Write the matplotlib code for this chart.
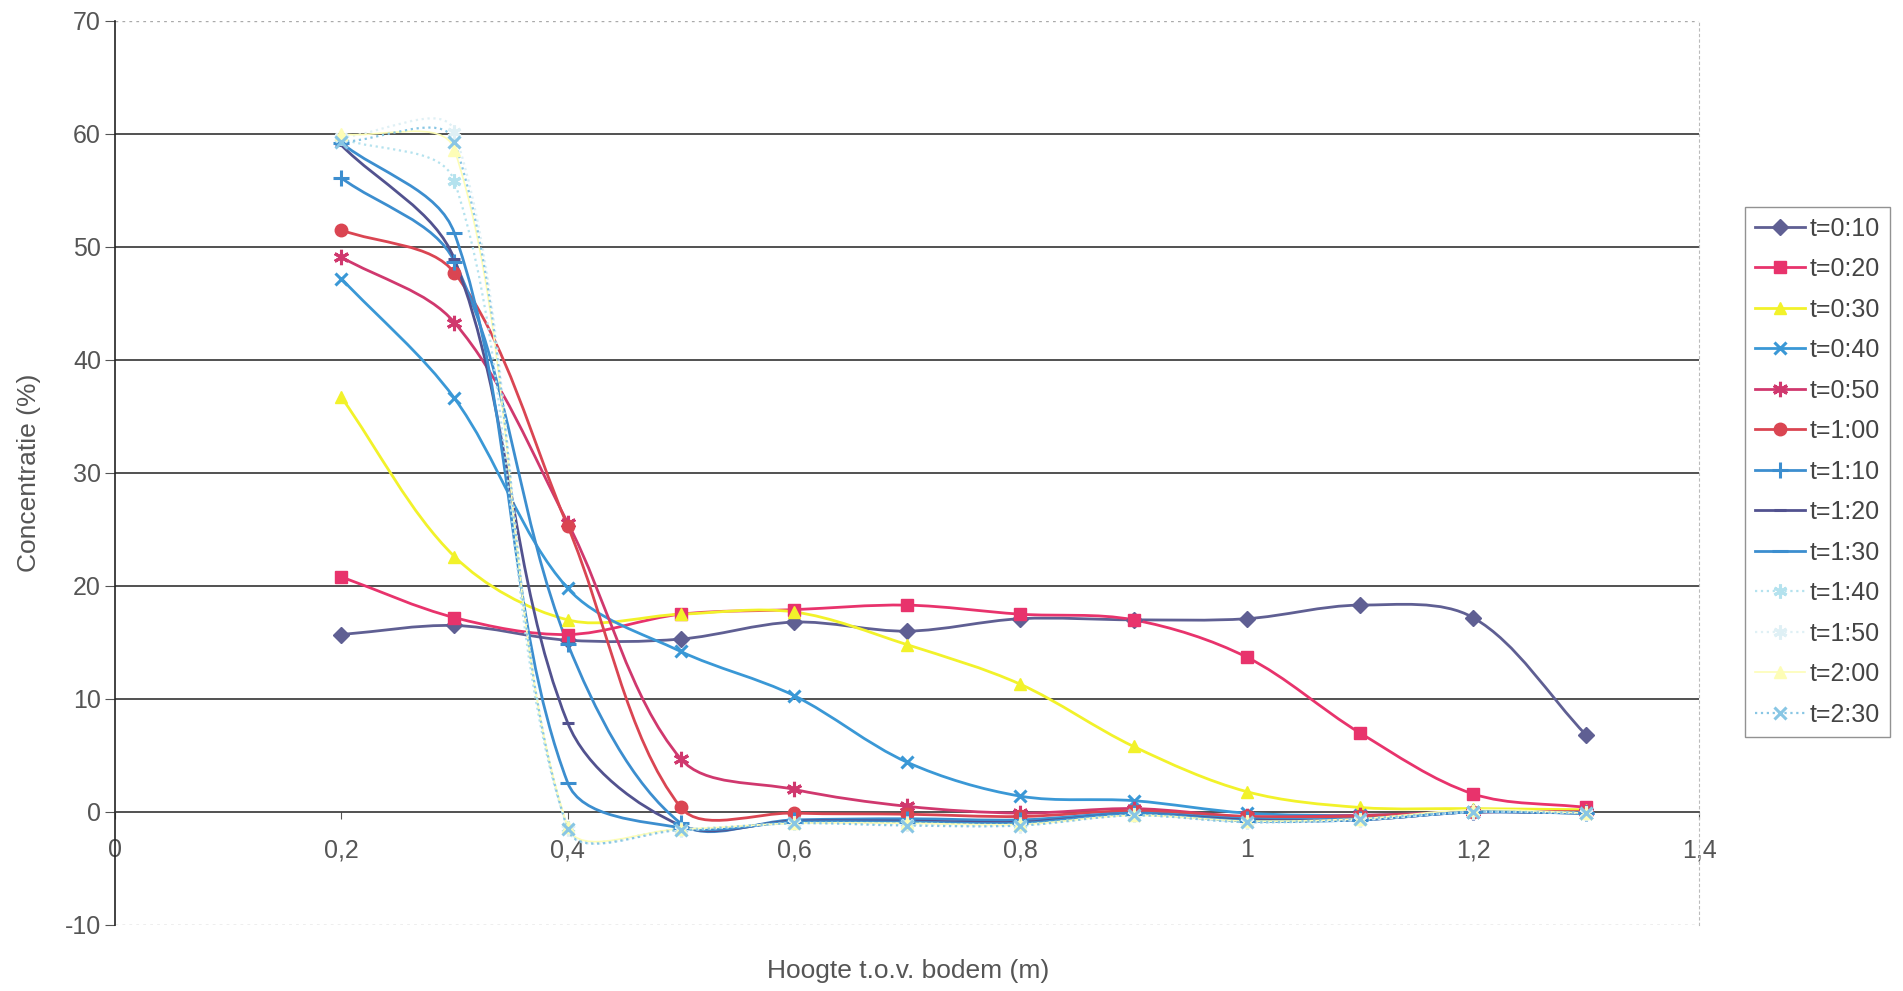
"""Concentration profiles versus height, smoothed Excel-style lines."""

import matplotlib

matplotlib.use("Agg")
import matplotlib.pyplot as plt
import numpy as np
from matplotlib.lines import Line2D
from matplotlib.patches import PathPatch
from matplotlib.path import Path

plt.rcParams["font.family"] = ["Liberation Sans", "DejaVu Sans"]
plt.rcParams["axes.unicode_minus"] = False

# heights (m)
hoogte = [0.2, 0.3, 0.4, 0.5, 0.6, 0.7, 0.8, 0.9, 1.0, 1.1, 1.2, 1.3]

# concentration (%) per time step
t010 = [15.7, 16.5, 15.2, 15.3, 16.8, 16.0, 17.1, 17.0, 17.1, 18.3, 17.2, 6.8]
t020 = [20.8, 17.2, 15.7, 17.5, 17.9, 18.3, 17.5, 17.0, 13.7, 7.0, 1.6, 0.4]
t030 = [36.7, 22.6, 17.0, 17.5, 17.7, 14.8, 11.3, 5.8, 1.8, 0.4, 0.3, 0.2]
t040 = [47.2, 36.6, 19.8, 14.2, 10.3, 4.4, 1.4, 1.0, -0.1, -0.3, 0.0, -0.1]
t050 = [49.1, 43.3, 25.6, 4.7, 2.0, 0.5, -0.1, 0.3, -0.4, -0.3, 0.0, 0.0]
t100 = [51.5, 47.7, 25.3, 0.4, -0.1, -0.2, -0.4, 0.1, -0.4, -0.4, 0.0, 0.0]
t110 = [56.1, 48.7, 14.9, -1.0, -0.7, -0.6, -0.7, -0.1, -0.6, -0.6, 0.0, -0.1]
t120 = [59.0, 48.9, 7.9, -1.2, -0.8, -0.8, -0.9, -0.2, -0.7, -0.7, 0.0, -0.1]
t130 = [59.2, 51.2, 2.6, -1.4, -0.9, -0.9, -1.0, -0.2, -0.8, -0.7, 0.0, -0.1]
t140 = [59.6, 55.8, -1.4, -1.5, -1.0, -1.0, -1.1, -0.3, -0.9, -0.7, 0.0, -0.1]
t150 = [59.7, 60.2, -1.5, -1.6, -1.0, -1.1, -1.2, -0.3, -0.9, -0.7, 0.0, -0.1]
t200 = [60.0, 58.6, -1.3, -1.5, -1.0, -1.0, -1.1, -0.3, -0.8, -0.6, 0.2, -0.1]
t230 = [59.3, 59.3, -1.5, -1.6, -1.0, -1.2, -1.2, -0.3, -0.9, -0.6, 0.0, -0.1]

labels = ["t=0:10", "t=0:20", "t=0:30", "t=0:40", "t=0:50", "t=1:00", "t=1:10",
          "t=1:20", "t=1:30", "t=1:40", "t=1:50", "t=2:00", "t=2:30"]
series = [t010, t020, t030, t040, t050, t100, t110, t120, t130, t140, t150, t200, t230]

ASTER = (6, 2, 0)
# color, marker, markersize, linestyle, linewidth
styles = [
    ("#5f5f93", "D", 8, "-", 2.0),
    ("#e8336c", "s", 8.5, "-", 2.0),
    ("#f2f22a", "^", 9, "-", 2.0),
    ("#3a98d6", "x", 9, "-", 2.0),
    ("#d0386e", ASTER, 11, "-", 2.0),
    ("#da4552", "o", 9, "-", 2.0),
    ("#3c8ecf", "+", 12, "-", 2.0),
    ("#52528f", "_", 8, "-", 2.0),
    ("#3c8ecf", "_", 12, "-", 2.0),
    ("#b4e2ee", ASTER, 10, ":", 1.6),
    ("#dff0f5", ASTER, 10, ":", 1.6),
    ("#fdfdb6", "^", 9, "-", 1.2),
    ("#88c6e4", "x", 9, ":", 1.6),
]


def smooth_path(ax, xs, ys):
    # Bezier through every point like Excel's "smoothed line": the control arms
    # follow the neighbour chord and are weighted by segment length on screen.
    pts = ax.transData.transform(np.column_stack([xs, ys]))
    n = len(pts)
    seg = np.hypot(*np.diff(pts, axis=0).T)
    c_out = [None] * n
    c_in = [None] * n
    for i in range(n):
        if i == 0:
            c_out[i] = pts[0] + (pts[1] - pts[0]) / 3.0
            continue
        if i == n - 1:
            c_in[i] = pts[i] - (pts[i] - pts[i - 1]) / 3.0
            continue
        tan = pts[i + 1] - pts[i - 1]
        d0, d1 = seg[i - 1], seg[i]
        c_in[i] = pts[i] - tan * d0 / (d0 + d1) / 3.0
        c_out[i] = pts[i] + tan * d1 / (d0 + d1) / 3.0
    verts = [pts[0]]
    codes = [Path.MOVETO]
    for i in range(n - 1):
        verts += [c_out[i], c_in[i + 1], pts[i + 1]]
        codes += [Path.CURVE4] * 3
    return Path(verts, codes)


fig = plt.figure(figsize=(19.03, 9.91), dpi=100)
ax = fig.add_axes([0.0604, 0.0666, 0.8326, 0.9124])
ax.set_xlim(0, 1.4)
ax.set_ylim(-10, 70)

for ys, (col, mk, ms, ls, lw) in zip(series, styles):
    ax.add_patch(PathPatch(smooth_path(ax, hoogte, ys), facecolor="none",
                           edgecolor=col, lw=lw, linestyle=ls, zorder=3,
                           transform=None, clip_on=False))
    mew = 2.2 if mk in ("x", "+", "_", ASTER) else 1.0
    ax.plot(hoogte, ys, linestyle="none", marker=mk, markersize=ms, color=col,
            markeredgecolor=col, markeredgewidth=mew, zorder=4)

xt = np.round(np.arange(0, 1.41, 0.2), 1)
ax.set_xticks(xt)
ax.set_xticklabels([("%g" % v).replace(".", ",") for v in xt])
ax.set_yticks(range(-10, 71, 10))

for y in range(10, 61, 10):
    ax.axhline(y, color="#333333", lw=1.2, zorder=1)
for y in (70, -10):
    ax.axhline(y, color="#aaaaaa", lw=1.0, ls=(0, (2, 3)), zorder=1)

ax.spines["bottom"].set_position(("data", 0))
ax.spines["bottom"].set_color("#333333")
ax.spines["bottom"].set_linewidth(1.2)
ax.spines["left"].set_color("#222222")
ax.spines["left"].set_linewidth(1.2)
ax.spines["top"].set_visible(False)
ax.spines["right"].set_color("#bbbbbb")
ax.spines["right"].set_linestyle((0, (2, 3)))

ax.tick_params(axis="both", labelsize=18, colors="#555555", direction="out")
ax.tick_params(axis="y", length=7, pad=3)
ax.tick_params(axis="x", length=5, pad=14)

ax.set_ylabel("Concentratie (%)", fontsize=19, color="#555555", labelpad=17)
fig.text(0.477, 0.02, "Hoogte t.o.v. bodem (m)", fontsize=19, color="#555555",
         ha="center", va="center")

handles = []
for col, mk, ms, ls, lw in styles:
    mew = 2.2 if mk in ("x", "+", "_", ASTER) else 1.0
    handles.append(Line2D([], [], color=col, lw=lw, linestyle=ls, marker=mk,
                          markersize=ms, markeredgewidth=mew))
leg = fig.legend(handles, labels, loc="center left",
                 bbox_to_anchor=(0.917, 0.524), fontsize=18, frameon=True,
                 fancybox=False, edgecolor="#777777", handlelength=2.0,
                 labelspacing=0.66, borderpad=0.4, handletextpad=0.2,
                 borderaxespad=0.0)
leg.get_frame().set_linewidth(1.0)
for txt in leg.get_texts():
    txt.set_color("#444444")

fig.savefig("out.png", dpi=100)
